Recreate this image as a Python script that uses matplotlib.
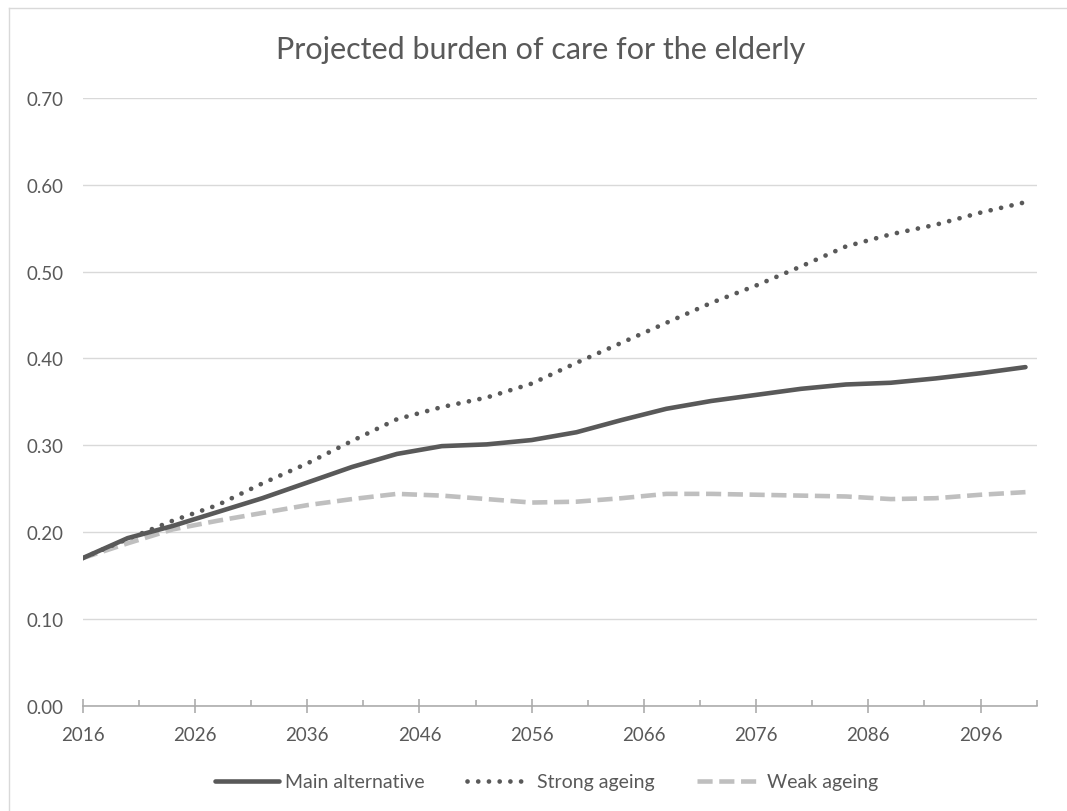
import numpy as np
import matplotlib
matplotlib.use("Agg")
import matplotlib.pyplot as plt
from matplotlib.ticker import FixedLocator, FuncFormatter
from matplotlib.lines import Line2D

plt.rcParams['font.family'] = ['Lato', 'DejaVu Sans']

years = [2016, 2020, 2024, 2028, 2032, 2036, 2040, 2044, 2048, 2052, 2056,
         2060, 2064, 2068, 2072, 2076, 2080, 2084, 2088, 2092, 2096, 2100]
main_alt = [0.170, 0.193, 0.207, 0.223, 0.239, 0.257, 0.275, 0.290, 0.299, 0.301, 0.306,
            0.315, 0.329, 0.342, 0.351, 0.358, 0.365, 0.370, 0.372, 0.377, 0.383, 0.390]
strong = [0.170, 0.192, 0.213, 0.231, 0.256, 0.279, 0.305, 0.330, 0.344, 0.355, 0.371,
          0.395, 0.418, 0.441, 0.464, 0.484, 0.506, 0.529, 0.543, 0.554, 0.568, 0.580]
weak = [0.170, 0.187, 0.203, 0.213, 0.222, 0.231, 0.238, 0.244, 0.242, 0.238, 0.234,
        0.235, 0.239, 0.244, 0.244, 0.243, 0.242, 0.241, 0.238, 0.239, 0.243, 0.246]
series_names = ["Main alternative", "Strong ageing", "Weak ageing"]
title = "Projected burden of care for the elderly"
xtick_years = list(range(2016, 2097, 10))
yticks = [0.0, 0.1, 0.2, 0.3, 0.4, 0.5, 0.6, 0.7]

W, H = 1067, 812
fig = plt.figure(figsize=(W / 100, H / 100), dpi=100)
fig.patch.set_facecolor('white')

L, R, B, T = 82.7, 1036.7, 706.7, 99.0
ax = fig.add_axes([L / W, 1 - B / H, (R - L) / W, (B - T) / H])

dark = '#595959'
light = '#BFBFBF'
ax.plot(years, main_alt, color=dark, lw=3.3, solid_capstyle='round',
        solid_joinstyle='round', label=series_names[0], zorder=4)
ax.plot(years, strong, color=dark, lw=3.4, linestyle=(0, (0.01, 2.26)),
        dash_capstyle='round', label=series_names[1], zorder=3)
ax.plot(years, weak, color=light, lw=3.3, linestyle=(0, (3.3, 1.45)),
        dash_capstyle='butt', label=series_names[2], zorder=2)

ax.set_xlim(2016, 2101)
ax.set_ylim(0, 0.70)
ax.set_yticks(yticks)
ax.yaxis.set_major_formatter(FuncFormatter(lambda v, p: f"{v:.2f}"))
ax.grid(axis='y', color='#D9D9D9', lw=1.0, zorder=0)
ax.set_axisbelow(True)

ax.xaxis.set_major_locator(FixedLocator(xtick_years))
ax.xaxis.set_minor_locator(FixedLocator(list(range(2021, 2102, 10))))
ax.set_xticklabels([str(y) for y in xtick_years])

for s in ['left', 'right', 'top']:
    ax.spines[s].set_visible(False)
ax.spines['bottom'].set_color('#A6A6A6')
ax.spines['bottom'].set_linewidth(1.1)
ax.spines['bottom'].set_zorder(1)

ax.tick_params(axis='y', length=0, pad=14, labelsize=13.5, labelcolor=dark)
ax.tick_params(axis='x', which='major', direction='inout', length=10.6, width=1.1,
               color='#A6A6A6', pad=9, labelsize=13.5, labelcolor=dark)
ax.tick_params(axis='x', which='minor', direction='in', length=4.3, width=1.1,
               color='#A6A6A6')

fig.text(541 / W, 1 - 59.3 / H, title, ha='center', va='baseline', fontsize=22,
         color=dark, fontweight='normal')

handles, labels = ax.get_legend_handles_labels()
fig.legend(handles, labels, loc='center', bbox_to_anchor=(546.5 / W, 1 - 783 / H),
           ncol=3, frameon=False, fontsize=14, labelcolor=dark,
           handlelength=3.3, handletextpad=0.3, columnspacing=2.2)

# chart-area border (left and top edges visible)
fig.add_artist(Line2D([8.5 / W, 8.5 / W], [0, 1 - 9 / H], transform=fig.transFigure,
                      color='#D9D9D9', lw=1.0))
fig.add_artist(Line2D([8.5 / W, 1], [1 - 9 / H, 1 - 9 / H], transform=fig.transFigure,
                      color='#D9D9D9', lw=1.0))

fig.savefig('out.png', dpi=100, facecolor='white')
